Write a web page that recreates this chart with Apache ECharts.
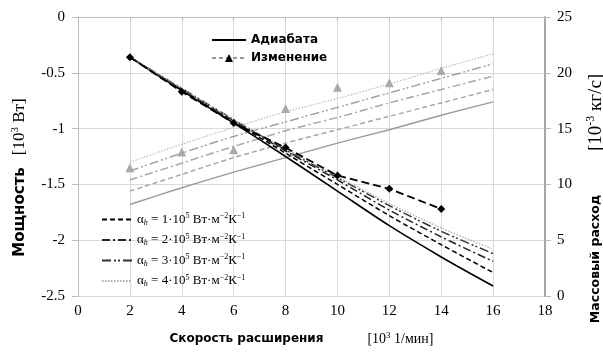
<!DOCTYPE html>
<html>
<head>
<meta charset="utf-8">
<script src="https://cdn.jsdelivr.net/npm/echarts@6/dist/echarts.min.js"></script>
<style>
  html, body { margin: 0; background: #fff; }
  #chart { width: 603px; height: 353px; }
</style>
</head>
<body>
<div id="chart"></div>
<script>
// expansion speed [10^3 1/min]
const speed = [2, 4, 6, 8, 10, 12, 14, 16];
const speedMeas = [2, 4, 6, 8, 10, 12, 14];

// power [10^3 W], left axis
const powerAdiab = [-0.36, -0.66, -0.95, -1.25, -1.56, -1.87, -2.15, -2.41];
const powerA1 = [-0.36, -0.65, -0.94, -1.22, -1.50, -1.78, -2.04, -2.29];
const powerA2 = [-0.36, -0.65, -0.93, -1.20, -1.46, -1.73, -1.97, -2.19];
const powerA3 = [-0.36, -0.64, -0.92, -1.19, -1.44, -1.69, -1.92, -2.12];
const powerA4 = [-0.36, -0.64, -0.92, -1.18, -1.43, -1.67, -1.89, -2.08];
const powerMeas = [-0.36, -0.67, -0.95, -1.17, -1.42, -1.54, -1.72];

// mass flow [10^-3 kg/s], right axis
const flowAdiab = [8.2, 9.7, 11.1, 12.4, 13.7, 14.9, 16.2, 17.4];
const flowA1 = [9.4, 10.9, 12.4, 13.7, 14.9, 16.1, 17.3, 18.5];
const flowA2 = [10.4, 11.9, 13.4, 14.8, 16.0, 17.3, 18.5, 19.7];
const flowA3 = [11.2, 12.8, 14.3, 15.6, 16.9, 18.2, 19.5, 20.8];
const flowA4 = [12.0, 13.6, 15.1, 16.5, 17.7, 19.0, 20.4, 21.7];
const flowMeas = [11.5, 12.9, 13.1, 16.8, 18.7, 19.1, 20.2];

const alphaNames = ['a1', 'a2', 'a3', 'a4'];
const alphaNums = {a1: '1', a2: '2', a3: '3', a4: '4'};

const xTicks = {min: 0, max: 18, interval: 2};

const pairs = (xs, ys) => ys.map((v, i) => [xs[i], v]);

const serif = 'Liberation Serif';
const sans = 'DejaVu Sans';

const chart = echarts.init(document.getElementById('chart'));

// dash patterns
const dash1 = [5, 3];
const dash2 = [8, 3, 2, 3];
const dash3 = [9, 3, 2, 2, 2, 3];
const dot4 = [1.5, 1.5];

function curve(name, xs, ys, yIdx, color, type, width, z) {
  return {
    type: 'line', name: name, yAxisIndex: yIdx, data: pairs(xs, ys),
    symbol: 'none', smooth: 0.3, z: z,
    lineStyle: {color: color, type: type, width: width},
    itemStyle: {color: color},
    emphasis: {disabled: true}
  };
}

// rich styles for the axis titles
function titleRich(bSize, sSize, gap, pad) {
  return {
    b: {fontFamily: sans, fontSize: bSize, fontWeight: 'bold', color: '#000'},
    s: {fontFamily: serif, fontSize: sSize, color: '#000'},
    sup: {fontFamily: serif, fontSize: Math.round(sSize * 0.65), color: '#000', padding: [0, 0, Math.round(sSize * 0.5), 0]},
    gap: {width: gap},
    pad: {width: pad}
  };
}

const tickLabel = {fontFamily: serif, fontSize: 15, color: '#000'};

chart.setOption({
  animation: false,
  grid: {left: 78, right: 58, top: 17, bottom: 57, outerBoundsMode: 'none'},
  legend: [
    {
      orient: 'vertical', left: 206, top: 29, itemWidth: 34, itemHeight: 10, itemGap: 6,
      textStyle: {fontFamily: sans, fontSize: 12, fontWeight: 'bold', color: '#000'},
      itemStyle: {opacity: 0},
      data: [
        'Адиабата',
        {name: 'Изменение', lineStyle: {color: '#777', type: [4, 3], width: 1.5}, itemStyle: {color: '#000', opacity: 1}}
      ]
    },
    {
      orient: 'vertical', left: 96, top: 207, itemWidth: 30, itemHeight: 10, itemGap: 6,
      itemStyle: {opacity: 0},
      textStyle: {
        fontFamily: serif, fontSize: 13, color: '#000',
        rich: {
          t: {fontFamily: serif, fontSize: 13, color: '#000'},
          sub: {fontFamily: serif, fontSize: 8, fontStyle: 'italic', color: '#000', padding: [6, 0, 0, 0]},
          sup: {fontFamily: serif, fontSize: 8, color: '#000', padding: [0, 0, 7, 0]}
        }
      },
      formatter: n => '{t|α}{sub|h}{t| = ' + alphaNums[n] + '·10}{sup|5}{t| Вт·м}{sup|−2}{t|К}{sup|−1}',
      data: alphaNames
    }
  ],
  xAxis: {
    type: 'value', min: xTicks.min, max: xTicks.max, interval: xTicks.interval,
    axisLine: {lineStyle: {color: '#bdbdbd'}},
    axisTick: {show: true, length: 4, lineStyle: {color: '#bdbdbd'}},
    axisLabel: Object.assign({margin: 8}, tickLabel),
    splitLine: {lineStyle: {color: '#d9d9d9'}},
    name: '{b|Скорость расширения}{gap|}{s|[10}{sup|3}{s| 1/мин]}{pad|}',
    nameLocation: 'middle', nameGap: 35,
    nameTextStyle: {rich: titleRich(12, 14, 44, 20)}
  },
  yAxis: [
    {
      type: 'value', min: -2.5, max: 0, interval: 0.5,
      axisLine: {show: true, lineStyle: {color: '#bdbdbd'}},
      axisTick: {show: true, length: 6, lineStyle: {color: '#bdbdbd'}},
      axisLabel: Object.assign({margin: 13}, tickLabel),
      splitLine: {lineStyle: {color: '#d9d9d9'}},
      name: '{b|Мощность}{gap|}{s|[10}{sup|3}{s| Вт]}{pad|}',
      nameLocation: 'middle', nameGap: 48, nameRotate: 90,
      nameTextStyle: {rich: titleRich(15, 17, 12, 42)}
    },
    {
      type: 'value', min: 0, max: 25, interval: 5, position: 'right',
      axisLine: {show: true, lineStyle: {color: '#a6a6a6', width: 2}},
      axisTick: {show: true, length: 6, lineStyle: {color: '#bdbdbd'}},
      axisLabel: Object.assign({margin: 12}, tickLabel),
      splitLine: {show: false},
      name: '{b|Массовый расход}{gap|}{s|[10}{sup|-3}{s| кг/с]}{pad|}',
      nameLocation: 'middle', nameGap: 40, nameRotate: 90,
      nameTextStyle: {rich: titleRich(12.5, 19, 44, 84)}
    }
  ],
  series: [
    curve('Адиабата', speed, powerAdiab, 0, '#000', 'solid', 1.6, 5),
    {
      type: 'line', name: 'Изменение', yAxisIndex: 1, data: pairs(speedMeas, flowMeas),
      symbol: 'triangle', symbolSize: 9, z: 3,
      lineStyle: {width: 0, color: '#aaa'}, itemStyle: {color: '#aaa'},
      emphasis: {disabled: true}
    },
    {
      type: 'line', name: 'Изменение', yAxisIndex: 0, data: pairs(speedMeas, powerMeas),
      symbol: 'diamond', symbolSize: 8, z: 6,
      lineStyle: {color: '#000', type: [8, 4], width: 1.8}, itemStyle: {color: '#000'},
      emphasis: {disabled: true}
    },
    curve('a1', speed, powerA1, 0, '#000', dash1, 1.5, 5),
    curve('a2', speed, powerA2, 0, '#222', dash2, 1.5, 5),
    curve('a3', speed, powerA3, 0, '#333', dash3, 1.5, 5),
    curve('a4', speed, powerA4, 0, '#aaa', dot4, 1.2, 5),
    curve('Адиабата', speed, flowAdiab, 1, '#9a9a9a', 'solid', 1.4, 2),
    curve('a1', speed, flowA1, 1, '#a6a6a6', dash1, 1.5, 2),
    curve('a2', speed, flowA2, 1, '#a6a6a6', dash2, 1.5, 2),
    curve('a3', speed, flowA3, 1, '#a0a0a0', dash3, 1.5, 2),
    curve('a4', speed, flowA4, 1, '#bbbbbb', dot4, 1.2, 2)
  ]
});
</script>
</body>
</html>
